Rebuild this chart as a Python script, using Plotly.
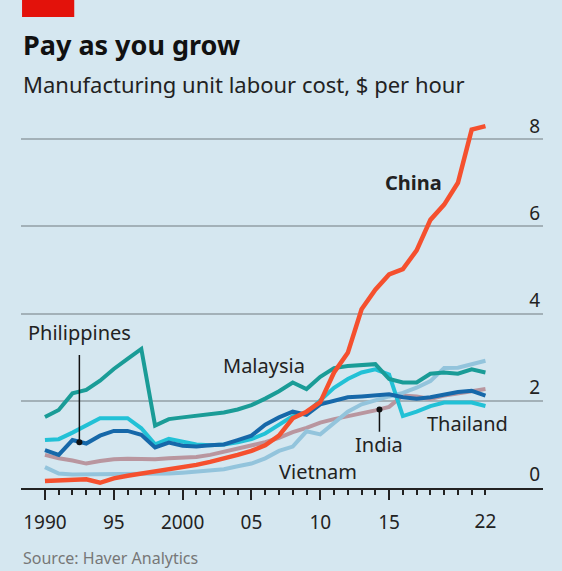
import plotly.graph_objects as go

years = list(range(1990, 2023))

china = [0.16, 0.17, 0.18, 0.20, 0.12, 0.22, 0.28, 0.33, 0.36, 0.42, 0.47,
         0.53, 0.60, 0.67, 0.76, 0.85, 0.98, 1.20, 1.60, 1.75, 1.97,
         2.65, 3.10, 4.10, 4.55, 4.90, 5.02, 5.45, 6.15, 6.50, 7.00, 8.22, 8.30]
malaysia = [1.63, 1.79, 2.17, 2.25, 2.46, 2.73, 2.96, 3.19, 1.43, 1.58, 1.62,
            1.65, 1.69, 1.73, 1.80, 1.90, 2.05, 2.22, 2.42, 2.27, 2.55,
            2.75, 2.80, 2.82, 2.84, 2.50, 2.42, 2.42, 2.62, 2.65, 2.62, 2.72, 2.65]
thailand = [1.10, 1.12, 1.27, 1.43, 1.60, 1.60, 1.60, 1.37, 1.00, 1.13, 1.06,
            1.00, 0.98, 1.00, 1.05, 1.12, 1.25, 1.45, 1.65, 1.72, 2.00,
            2.30, 2.50, 2.65, 2.72, 2.60, 1.65, 1.75, 1.88, 1.96, 1.96, 1.96, 1.88]
philippines = [0.87, 0.76, 1.10, 1.02, 1.20, 1.31, 1.31, 1.22, 0.93, 1.04, 0.97,
               0.95, 0.98, 1.00, 1.10, 1.20, 1.45, 1.62, 1.75, 1.68, 1.92,
               2.00, 2.08, 2.10, 2.12, 2.15, 2.08, 2.05, 2.08, 2.15, 2.20, 2.23, 2.12]
india = [0.76, 0.68, 0.63, 0.56, 0.62, 0.66, 0.67, 0.66, 0.66, 0.68, 0.70,
         0.71, 0.76, 0.83, 0.90, 0.96, 1.05, 1.15, 1.28, 1.38, 1.50,
         1.58, 1.64, 1.70, 1.78, 1.86, 2.12, 2.10, 2.04, 2.12, 2.18, 2.22, 2.27]
vietnam = [0.48, 0.33, 0.31, 0.31, 0.31, 0.31, 0.31, 0.31, 0.31, 0.33, 0.35,
           0.38, 0.40, 0.43, 0.50, 0.56, 0.68, 0.85, 0.95, 1.30, 1.23,
           1.50, 1.75, 1.92, 2.02, 2.10, 2.18, 2.30, 2.45, 2.75, 2.76, 2.84, 2.92]

# drawing order: first is at the bottom
series = [
    ("India", india, "#b9969f", 4),
    ("Vietnam", vietnam, "#93c4dc", 4),
    ("Thailand", thailand, "#22c1d6", 4),
    ("Philippines", philippines, "#1668a9", 4),
    ("Malaysia", malaysia, "#1a9c97", 4),
    ("China", china, "#f5502e", 4.5),
]

# label text, x (year), y (value)
label_names = ["Philippines", "Malaysia", "China", "India", "Thailand", "Vietnam"]
label_x = [1992.5, 2005.9, 2016.8, 2014.3, 2020.7, 2009.8]
label_y = [3.56, 2.80, 7.00, 0.99, 1.49, 0.37]

# pointer lines: x, y at the series, y at the label end
pointer_x = [1992.5, 2014.3]
pointer_y_dot = [1.05, 1.80]
pointer_y_end = [3.05, 1.29]

y_ticks = [0, 2, 4, 6, 8]
x_major = [1990, 1995, 2000, 2005, 2010, 2015, 2020]
x_major_text = ["1990", "95", "2000", "05", "10", "15", ""]

bg = "#d5e7f0"
font = "Noto Sans"
txt = "#222222"

fig = go.Figure()

for name, vals, color, w in series:
    fig.add_trace(go.Scatter(x=years, y=vals, mode="lines", name=name,
                             line=dict(color=color, width=w),
                             hoverinfo="x+y+name"))

for px_, y0, y1 in zip(pointer_x, pointer_y_dot, pointer_y_end):
    fig.add_shape(type="line", x0=px_, x1=px_, y0=y0, y1=y1,
                  line=dict(color="#111111", width=1.5), layer="above")
# dots sit on the overlay axis so that the "22" tick axis gets drawn
fig.add_trace(go.Scatter(x=pointer_x, y=pointer_y_dot, mode="markers",
                         xaxis="x2", marker=dict(color="#111111", size=6),
                         hoverinfo="skip"))

for name, lx, ly in zip(label_names, label_x, label_y):
    fig.add_annotation(x=lx, y=ly, text=f"<b>{name}</b>" if name == "China" else name,
                       showarrow=False, xanchor="center", yanchor="middle",
                       font=dict(family=font, size=20, color=txt))

# header and footer (plot area runs from 110px to 488px tall, 21px to 543px wide)
fig.add_shape(type="rect", xref="paper", yref="paper",
              x0=0.002, x1=0.102, y0=1.246, y1=1.30,
              fillcolor="#e3120b", line=dict(width=0))
fig.add_annotation(xref="paper", yref="paper", x=0.0, y=1.172,
                   xanchor="left", yanchor="middle", showarrow=False,
                   text="<b>Pay as you grow</b>",
                   font=dict(family=font, size=27, color="#111111"))
fig.add_annotation(xref="paper", yref="paper", x=0.0, y=1.068,
                   xanchor="left", yanchor="middle", showarrow=False,
                   text="Manufacturing unit labour cost, $ per hour",
                   font=dict(family=font, size=22, color=txt))
fig.add_annotation(xref="paper", yref="paper", x=0.0, y=-0.185,
                   xanchor="left", yanchor="middle", showarrow=False,
                   text="Source: Haver Analytics",
                   font=dict(family=font, size=16, color="#777777"))

x_range = [1988.26, 2026.18]

fig.update_layout(
    width=562, height=571,
    margin=dict(l=21, r=19, t=110, b=83),
    paper_bgcolor=bg, plot_bgcolor=bg,
    showlegend=False,
    xaxis=dict(range=x_range, showgrid=False, zeroline=False,
               showline=True, linecolor="#222222", linewidth=1.5,
               ticks="outside", ticklen=10, tickwidth=1.5, tickcolor="#222222",
               tickmode="array", tickvals=x_major, ticktext=x_major_text,
               ticklabelstandoff=6,
               minor=dict(tickmode="array", tickvals=years, ticks="outside",
                          ticklen=5, tickwidth=1.5, tickcolor="#222222"),
               tickfont=dict(family=font, size=19, color=txt), fixedrange=True),
    xaxis2=dict(range=x_range, overlaying="x", anchor="y", side="bottom",
                showgrid=False, zeroline=False, showline=False,
                ticks="outside", ticklen=10, tickcolor="rgba(0,0,0,0)",
                tickmode="array", tickvals=[2022], ticktext=["22"],
                ticklabelstandoff=6, fixedrange=True,
                tickfont=dict(family=font, size=19, color=txt)),
    yaxis=dict(range=[0, 8.67], side="right", tickmode="array", tickvals=y_ticks,
               ticklabelposition="inside top", showgrid=True,
               gridcolor="#a3b1b8", gridwidth=1.5, zeroline=False, showline=False,
               tickfont=dict(family=font, size=19, color=txt), fixedrange=True),
)

fig.write_html("out.html", config={"displayModeBar": False},
               post_script="document.body.style.margin='0';"
                           "document.body.style.overflow='hidden';")
